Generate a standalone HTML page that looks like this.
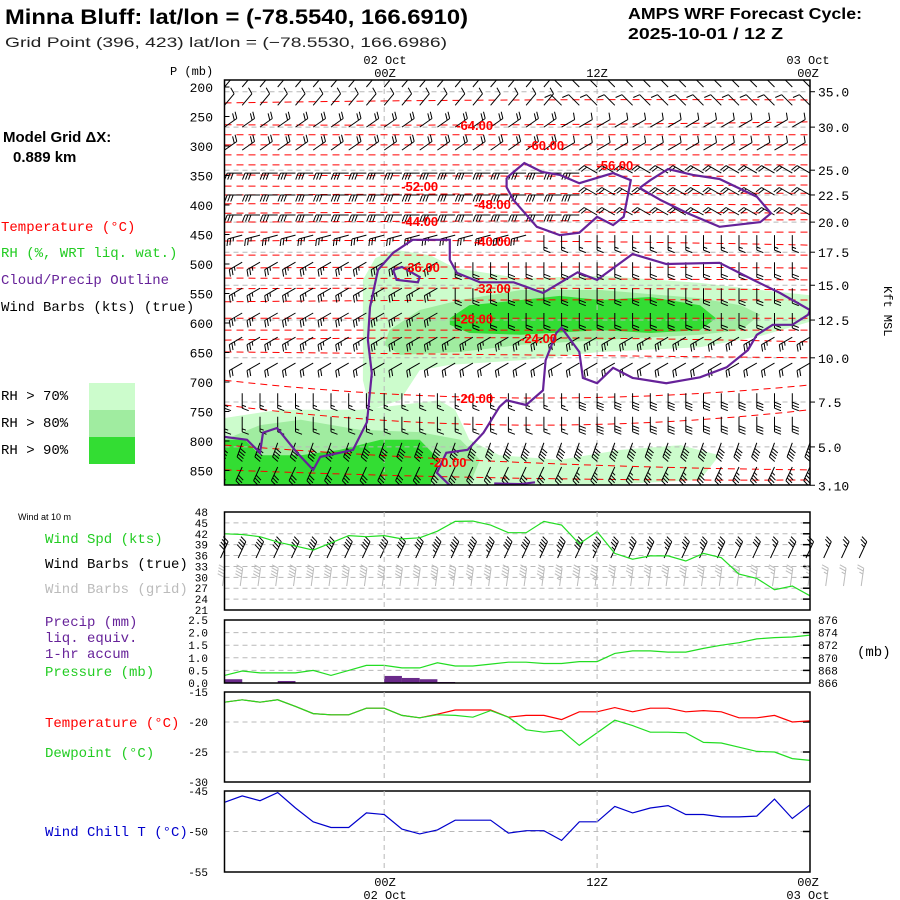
<!DOCTYPE html>
<html><head><meta charset="utf-8"><style>
html,body{margin:0;padding:0;background:#fff;}
svg{display:block;}
.m{font-family:"Liberation Mono",monospace;}
.s{font-family:"Liberation Sans",sans-serif;}
</style></head><body>
<svg id="chart" width="900" height="900" viewBox="0 0 900 900" xmlns="http://www.w3.org/2000/svg">
<rect x="0" y="0" width="900" height="900" fill="#fff"/>
<text x="5" y="24" class="s" font-size="21" font-weight="bold" textLength="463" lengthAdjust="spacingAndGlyphs">Minna Bluff:  lat/lon = (-78.5540, 166.6910)</text>
<text x="5" y="47" class="s" font-size="14" textLength="442" lengthAdjust="spacingAndGlyphs" fill="#222">Grid Point (396, 423) lat/lon = (−78.5530, 166.6986)</text>
<text x="628" y="19" class="s" font-size="16" font-weight="bold" textLength="234" lengthAdjust="spacingAndGlyphs">AMPS WRF Forecast Cycle:</text>
<text x="628" y="39" class="s" font-size="16" font-weight="bold" textLength="155" lengthAdjust="spacingAndGlyphs">2025-10-01 / 12  Z</text>
<text x="170" y="75" class="m" font-size="12">P (mb)</text>
<text x="385" y="64" class="m" font-size="12" text-anchor="middle">02 Oct</text>
<text x="385" y="77" class="m" font-size="12" text-anchor="middle">00Z</text>
<text x="597" y="77" class="m" font-size="12" text-anchor="middle">12Z</text>
<text x="808" y="64" class="m" font-size="12" text-anchor="middle">03 Oct</text>
<text x="808" y="77" class="m" font-size="12" text-anchor="middle">00Z</text>
<text x="385" y="886" class="m" font-size="12" text-anchor="middle">00Z</text>
<text x="385" y="899" class="m" font-size="12" text-anchor="middle">02 Oct</text>
<text x="597" y="886" class="m" font-size="12" text-anchor="middle">12Z</text>
<text x="808" y="886" class="m" font-size="12" text-anchor="middle">00Z</text>
<text x="808" y="899" class="m" font-size="12" text-anchor="middle">03 Oct</text>
<text x="3" y="142" class="s" font-size="15" font-weight="bold">Model Grid ΔX:</text>
<text x="13" y="162" class="s" font-size="15" font-weight="bold">0.889 km</text>
<text x="1" y="231" class="m" font-size="14" fill="#ff0000">Temperature (°C)</text>
<text x="1" y="257" class="m" font-size="14" fill="#22cc22">RH (%, WRT liq. wat.)</text>
<text x="1" y="284" class="m" font-size="14" fill="#662299">Cloud/Precip Outline</text>
<text x="1" y="311" class="m" font-size="14" fill="#000">Wind Barbs (kts) (true)</text>
<text x="1" y="400" class="m" font-size="14">RH &gt; 70%</text>
<text x="1" y="427" class="m" font-size="14">RH &gt; 80%</text>
<text x="1" y="454" class="m" font-size="14">RH &gt; 90%</text>
<rect x="89" y="383" width="46" height="27" fill="#ccfccc"/>
<rect x="89" y="410" width="46" height="27" fill="#a0eca0"/>
<rect x="89" y="437" width="46" height="27" fill="#33dd33"/>
<text x="18" y="520" class="s" font-size="9">Wind at 10 m</text>
<text x="45" y="543" class="m" font-size="14" fill="#22cc22">Wind Spd (kts)</text>
<text x="45" y="568" class="m" font-size="14" fill="#000">Wind Barbs (true)</text>
<text x="45" y="593" class="m" font-size="14" fill="#bbbbbb">Wind Barbs (grid)</text>
<text x="45" y="626" class="m" font-size="14" fill="#662299">Precip (mm)</text>
<text x="45" y="642" class="m" font-size="14" fill="#662299">liq. equiv.</text>
<text x="45" y="658" class="m" font-size="14" fill="#662299">1-hr accum</text>
<text x="45" y="676" class="m" font-size="14" fill="#22cc22">Pressure (mb)</text>
<text x="857" y="656" class="m" font-size="14">(mb)</text>
<text x="45" y="727" class="m" font-size="14" fill="#ff0000">Temperature (°C)</text>
<text x="45" y="757" class="m" font-size="14" fill="#22cc22">Dewpoint (°C)</text>
<text x="45" y="836" class="m" font-size="14" fill="#0000cc">Wind Chill T (°C)</text>
<text x="0" y="0" class="m" font-size="12" transform="translate(884,286) rotate(90)">Kft MSL</text>
<g id="layer"></g>
</svg>
<script>
// ---------- data ----------
const hours = [0,1,2,3,4,5,6,7,8,9,10,11,12,13,14,15,16,17,18,19,20,21,22,23,24,25,26,27,28,29,30,31,32,33];
const windSpd = [42.0,41.8,41.2,39.7,38.6,37.5,39.5,41.5,41.2,41.5,40.6,40.9,42.7,45.4,45.5,44.4,42.3,42.3,45.4,44.4,39.2,42.6,36.6,35.0,35.9,35.9,34.5,36.6,35.4,30.9,29.7,26.6,27.6,24.9];
const windSpdExtra = [25,25,25];
const sfcPres = [867.2,867.9,867.6,867.6,867.6,868.0,867.2,868.0,868.8,868.8,868.4,868.4,869.2,868.7,868.7,869.0,869.3,869.3,869.1,869.1,869.4,869.4,870.7,871.1,871.1,870.9,870.9,871.5,872.0,872.4,873.0,873.2,873.3,873.6];
const precip = [0.15,0,0,0.08,0,0,0,0,0,0.28,0.2,0.15,0.04,0,0,0,0,0,0,0,0,0,0,0,0,0,0,0,0,0,0,0,0];
const sfcTemp = [-16.7,-16.3,-16.7,-16.3,-17.4,-18.6,-18.8,-18.8,-17.7,-17.7,-18.9,-19.3,-18.7,-18.0,-18.0,-18.0,-19.2,-18.9,-18.9,-19.6,-18.3,-18.3,-17.6,-18.3,-17.7,-17.7,-18.3,-18.1,-18.3,-19.3,-19.3,-18.9,-20.0,-19.8];
const dewpoint = [-16.7,-16.3,-16.7,-16.3,-17.4,-18.6,-18.8,-18.8,-17.7,-17.7,-18.9,-19.3,-18.8,-18.9,-19.2,-18.1,-19.2,-21.3,-21.7,-21.4,-23.9,-21.8,-19.7,-20.6,-21.7,-21.7,-21.8,-23.4,-23.5,-24.2,-24.9,-25.0,-26.1,-26.4];
const windChill = [-46.4,-45.6,-46.2,-45.2,-47.1,-48.8,-49.5,-49.5,-47.7,-47.9,-49.7,-50.3,-49.8,-48.6,-48.6,-48.6,-50.2,-49.9,-49.9,-51.1,-48.8,-48.8,-46.9,-47.7,-47.1,-46.8,-47.9,-47.9,-48.2,-48.2,-48.1,-46.0,-48.4,-46.7];
const pressureTicks = [200,250,300,350,400,450,500,550,600,650,700,750,800,850];
const kftLabels = ["35.0","30.0","25.0","22.5","20.0","17.5","15.0","12.5","10.0","7.5","5.0","3.10"];
const kftPres = [208,268,341,383,429,480,536,595,659,734,810,875];
const windTicks = [48,45,42,39,36,33,30,27,24,21];
const precipTicks = [2.5,2.0,1.5,1.0,0.5,0.0];
const presTicks = [876,874,872,870,868,866];
const tempTicks = [-15,-20,-25,-30];
const chillTicks = [-45,-50,-55];
// temperature contours: level, pressure at left / middle / right
const isoLevels = [-66,-64,-62,-60,-58,-56,-54,-52,-50,-48,-46,-44,-42,-40,-38,-36,-34,-32,-30,-28,-26,-24,-22,-20,-18,-20,-16];
const isoPLeft  = [227,264,281,298,315,332,349,368,383,398,414,429,446,461,485,507,524,542,564,592,612,629,649,697,739,807,849];
const isoPMid   = [222,264,281,298,315,332,351,368,381,398,412,427,446,461,485,505,525,541,561,592,612,625,654,727,773,836,863];
const isoPRight = [222,259,281,298,315,332,351,366,380,400,414,425,446,468,485,507,527,544,561,592,612,632,659,705,747,849,866];
const isoLabelText = ["-64.00","-60.00","-56.00","-52.00","-48.00","-44.00","-40.00","-36.00","-32.00","-28.00","-24.00","-20.00","-20.00"];
const isoLabelHour = [14.1,18.1,22.0,11.0,15.1,11.0,15.1,11.1,15.1,14.1,17.7,14.1,12.6];
const isoLabelPres = [264,298,332,368,398,427,461,505,541,592,625,727,836];
// RH regions [hour, mb]
const rh70Mid = [[7.8,527],[8.5,490],[9.6,476],[11.6,485],[13.0,507],[16.7,524],[21.2,520],[26.8,532],[30.2,544],[33,553],[33,598],[30.2,622],[26.8,641],[21.2,649],[16.7,663],[12.7,671],[11.0,680],[9.9,731],[8.2,747],[7.8,697]];
const rh80Mid = [[9.3,612],[11.0,578],[13.3,561],[16.7,544],[21.2,544],[26.8,558],[29.1,570],[30.2,586],[29.1,612],[26.8,620],[21.2,629],[16.7,637],[13.3,649],[9.9,654],[9.0,637]];
const rh90Mid = [[12.7,592],[13.8,570],[16.7,561],[18.9,554],[21.2,561],[24.0,556],[26.8,570],[27.7,592],[26.8,612],[24.0,617],[21.2,612],[16.7,620],[13.8,617],[12.7,603]];
const rh70Low = [[0,761],[3.1,747],[7.6,747],[9.9,739],[12.1,731],[13.0,747],[13.8,798],[15.5,824],[18.9,832],[22.3,815],[25.7,807],[27.9,824],[26.8,866],[21.2,875],[0,875]];
const rh80Low = [[0,798],[2.0,773],[4.3,764],[7.6,781],[11.0,785],[13.3,798],[14.4,832],[13.8,875],[0,875]];
const rh90Low = [[0,798],[1.15,798],[2.0,824],[4.3,824],[6.5,815],[8.8,798],[11.0,798],[12.1,832],[11.6,875],[0,875]];
// cloud outlines [hour, mb]
const cloudUpperA = [[15.9,354],[16.9,329],[17.9,344],[18.9,349],[20,363],[21.9,346],[22.9,358],[22.5,420],[21.9,434],[21,420],[20,447],[18.9,451],[17.6,437],[16.3,392],[15.9,370],[15.9,354]];
const cloudUpperB = [[23.4,371],[24,358],[25,339],[26.4,349],[27.9,356],[30,386],[30.8,414],[30.2,429],[27.9,437],[26.1,414],[24.6,392],[23.4,371]];
const cloudMainTop = [[0,793],[1.27,798],[2.0,820],[2.17,786],[2.96,778],[4.09,820],[5.0,849],[5.4,827],[7.24,815],[8.03,768],[8.3,685],[8.08,629],[8.2,573],[8.65,510],[9.5,481],[10.6,459],[12.7,459],[12.7,493],[13.1,515],[14.4,531],[16.3,531],[17.95,549],[19.9,514],[21.0,527],[23.0,483],[24.9,500],[27.9,498],[29.8,527],[31.3,549],[33,578]];
const cloudMainBottom = [[33,578],[32.9,586],[32.0,603],[30.9,603],[30.0,620],[29.5,646],[28.3,675],[26.8,692],[24.9,702],[23.0,693],[21.9,676],[21.0,702],[20.2,693],[20.0,649],[19.0,608],[18.7,617],[18.1,663],[17.95,714],[17.0,739],[15.9,731],[15.5,742],[14.6,786],[13.7,815],[12.5,820],[11.97,854],[12.7,875]];
const cloudLoop = [[9.5,510],[10.0,505],[11.0,522],[10.9,531],[9.7,527],[9.5,510]];
const cloudBottomBit = [[15.2,872],[16.7,873],[17.5,870]];
// upper-air barbs: model levels, direction/speed before & after switch hour
const barbLevels = [200,231,268,307,346,383,417,451,497,541,583,624,668,719,759,803,844];
const barbDirEarly = [40,40,55,55,-90,-90,-90,-105,-120,-120,-120,-120,-120,180,180,200,205];
const barbSpdEarly = [10,10,20,20,30,30,30,25,25,25,25,25,20,15,15,40,30];
const barbDirLate  = [-45,-45,60,60,-60,-60,-60,180,180,180,180,-120,-120,180,180,200,205];
const barbSpdLate  = [10,10,10,10,20,20,20,15,20,20,20,25,20,30,30,40,35];
const barbSwitch   = [19,19,19,19,21,21,21,18,13,13,13,20,20,20,20,20,20];

// ---------- scales ----------
const H0 = 224.5, H1 = 810;
const xh = h => H0 + h * (H1 - H0) / 33;
const yP = p => 87 + (p - 200) * 29.5 / 50;
const yW = v => 610 - (v - 21) * 98 / 27;
const yPr = v => 683 - v * 63 / 2.5;
const yPs = v => 683 - (v - 866) * 63 / 10;
const yT = v => 782 - (v + 30) * 90 / 15;
const yC = v => 872 - (v + 55) * 81 / 10;

const NS = "http://www.w3.org/2000/svg";
const layer = document.getElementById('layer');
function mk(tag, attrs, parent) {
  const el = document.createElementNS(NS, tag);
  for (const k in attrs) el.setAttribute(k, attrs[k]);
  (parent || layer).appendChild(el);
  return el;
}
function ptsHP(arr) { return arr.map(a => xh(a[0]).toFixed(1) + ',' + yP(a[1]).toFixed(1)).join(' '); }

const defs = mk('defs', {});
const cp = mk('clipPath', {id: 'mainclip'}, defs);
mk('rect', {x: H0, y: 80, width: H1 - H0, height: 405}, cp);

const mainG = mk('g', {'clip-path': 'url(#mainclip)'});



const rhSets = [[rh70Mid,'#ccfccc','rh70-mid'],[rh70Low,'#ccfccc','rh70-low'],[rh80Mid,'#a0eca0','rh80-mid'],[rh80Low,'#a0eca0','rh80-low'],[rh90Mid,'#33dd33','rh90-mid'],[rh90Low,'#33dd33','rh90-low']];
rhSets.forEach(s => {
  const el = mk('polygon', {points: ptsHP(s[0]), fill: s[1], stroke: 'none'}, mainG);
  
  
});

kftPres.forEach((p, i) => {
  if (i === kftPres.length - 1) return;
  const el = mk('line', {x1: H0, x2: H1, y1: yP(p), y2: yP(p), stroke: '#b8b8b8', 'stroke-dasharray': '5,4', 'stroke-width': 1}, mainG);
  
  
});
[9, 21].forEach(h => {
  const el = mk('line', {x1: xh(h), x2: xh(h), y1: 80, y2: 485, stroke: '#b8b8b8', 'stroke-dasharray': '5,4'}, mainG);
  
  
});

isoLevels.forEach((lv, i) => {
  const d = 'M' + xh(0) + ',' + yP(isoPLeft[i]) + ' Q' + xh(16.5) + ',' + (2 * yP(isoPMid[i]) - (yP(isoPLeft[i]) + yP(isoPRight[i])) / 2) + ' ' + xh(33) + ',' + yP(isoPRight[i]);
  const el = mk('path', {d: d, fill: 'none', stroke: '#ff0000', 'stroke-width': 1, 'stroke-dasharray': '7,5'}, mainG);
  
  
});

function barb(g, x, y, ang, spd, len, color, side, name) {
  const a = ang * Math.PI / 180;
  const ex = x + len * Math.sin(a), ey = y - len * Math.cos(a);
  let d = 'M' + x.toFixed(1) + ',' + y.toFixed(1) + 'L' + ex.toFixed(1) + ',' + ey.toFixed(1);
  let rem = Math.round(spd / 5) * 5, k = 0;
  const fa = a + side * 1.2;
  while (rem >= 5) {
    const fl = rem >= 10 ? 7 : 4;
    const px = ex - k * 3 * Math.sin(a), py = ey + k * 3 * Math.cos(a);
    d += 'M' + px.toFixed(1) + ',' + py.toFixed(1) + 'l' + (fl * Math.sin(fa)).toFixed(1) + ',' + (-fl * Math.cos(fa)).toFixed(1);
    rem -= rem >= 10 ? 10 : 5; k++;
  }
  const el = mk('path', {d: d, fill: 'none', stroke: color, 'stroke-width': 1}, g);
  
  
}
barbLevels.forEach((p, li) => {
  hours.forEach(h => {
    const late = h >= barbSwitch[li];
    barb(mainG, xh(h), yP(p), late ? barbDirLate[li] : barbDirEarly[li], late ? barbSpdLate[li] : barbSpdEarly[li], 15, '#000', -1, 'wind-barb');
  });
});

[[cloudUpperA,'cloud-outline-upper-a'],[cloudUpperB,'cloud-outline-upper-b'],[cloudMainTop,'cloud-outline-main-top'],[cloudMainBottom,'cloud-outline-main-bottom'],[cloudLoop,'cloud-outline-loop'],[cloudBottomBit,'cloud-outline-bottom']].forEach(s => {
  const el = mk('polyline', {points: ptsHP(s[0]), fill: 'none', stroke: '#662299', 'stroke-width': 2.2}, mainG);
  
  
});

isoLabelText.forEach((t, i) => {
  const el = mk('text', {x: xh(isoLabelHour[i]), y: yP(isoLabelPres[i]) + 5, 'text-anchor': 'middle', 'font-family': 'Liberation Sans, sans-serif', 'font-size': 13, 'font-weight': 'bold', fill: '#ff0000'}, mainG);
  el.textContent = t;
  
  
});

const frame = mk('rect', {x: H0, y: 80, width: H1 - H0, height: 405, fill: 'none', stroke: '#000', 'stroke-width': 1.5});


pressureTicks.forEach(p => {
  const t = mk('text', {x: 213, y: yP(p) + 5, 'text-anchor': 'end', class: 'm', 'font-size': 13}); t.textContent = p;
  
  
  const l = mk('line', {x1: H0, x2: H0 + 5, y1: yP(p), y2: yP(p), stroke: '#000'});
  
  
});
kftLabels.forEach((lab, i) => {
  const t = mk('text', {x: 818, y: yP(kftPres[i]) + 5, class: 'm', 'font-size': 13}); t.textContent = lab;
  
  
  const l = mk('line', {x1: H1, x2: H1 + 5, y1: yP(kftPres[i]), y2: yP(kftPres[i]), stroke: '#000'});
  
  
});

// ---------- lower panels ----------
function panel(top, bot, name) {
  const r = mk('rect', {x: H0, y: top, width: H1 - H0, height: bot - top, fill: 'none', stroke: '#000', 'stroke-width': 1.5});
  
  
  [9, 21].forEach(h => {
    const v = mk('line', {x1: xh(h), x2: xh(h), y1: top, y2: bot, stroke: '#b8b8b8', 'stroke-dasharray': '5,4'});
    
    
  });
}
function hgrid(y) {
  const g = mk('line', {x1: H0, x2: H1, y1: y, y2: y, stroke: '#b8b8b8', 'stroke-dasharray': '5,4'});
  
  
  const t = mk('line', {x1: H1 - 7, x2: H1, y1: y, y2: y, stroke: '#000', 'stroke-width': 1.5});
  
  
}
function leftLabel(y, txt, size) {
  const t = mk('text', {x: 208, y: y + 4, 'text-anchor': 'end', class: 'm', 'font-size': size || 11}); t.textContent = txt;
  
  
}
function series(vals, sy, color, name) {
  const el = mk('polyline', {points: vals.map((v, i) => xh(hours[i]).toFixed(1) + ',' + sy(v).toFixed(1)).join(' '), fill: 'none', stroke: color, 'stroke-width': 1.2});
  
  
}

windTicks.forEach(v => { if (v !== 48 && v !== 21) hgrid(yW(v)); leftLabel(yW(v), v); });
const allSpd = windSpd.concat(windSpdExtra);
allSpd.forEach((s, i) => {
  barb(layer, xh(i) - 4, 558, 25, s, 18, '#000', -1, 'wind-barb-10m-true');
  barb(layer, xh(i) - 2, 586, 8, s, 18, '#bbbbbb', -1, 'wind-barb-10m-grid');
});
series(windSpd, yW, '#22dd22', 'wind-speed-line');
panel(512, 610, 'wind-panel-frame');

precipTicks.forEach(v => { if (v > 0 && v < 2.5) hgrid(yPr(v)); leftLabel(yPr(v), v.toFixed(1)); });
presTicks.forEach(v => {
  const t = mk('text', {x: 818, y: yPs(v) + 4, class: 'm', 'font-size': 11}); t.textContent = v;
  
  
});
precip.forEach((v, i) => {
  if (v <= 0) return;
  const b = mk('rect', {x: xh(i), y: yPr(v), width: xh(i + 1) - xh(i), height: yPr(0) - yPr(v), fill: '#6a2a8a'});
  
  
});
series(sfcPres, yPs, '#22dd22', 'surface-pressure-line');
panel(620, 683, 'precip-panel-frame');

tempTicks.forEach(v => { if (v === -20 || v === -25) hgrid(yT(v)); leftLabel(yT(v), v); });
series(sfcTemp, yT, '#ff0000', 'temperature-line');
series(dewpoint, yT, '#22dd22', 'dewpoint-line');
panel(692, 782, 'temperature-panel-frame');

chillTicks.forEach(v => { if (v === -50) hgrid(yC(v)); leftLabel(yC(v), v); });
series(windChill, yC, '#0000cc', 'wind-chill-line');
panel(791, 872, 'wind-chill-panel-frame');
</script>
</body></html>
